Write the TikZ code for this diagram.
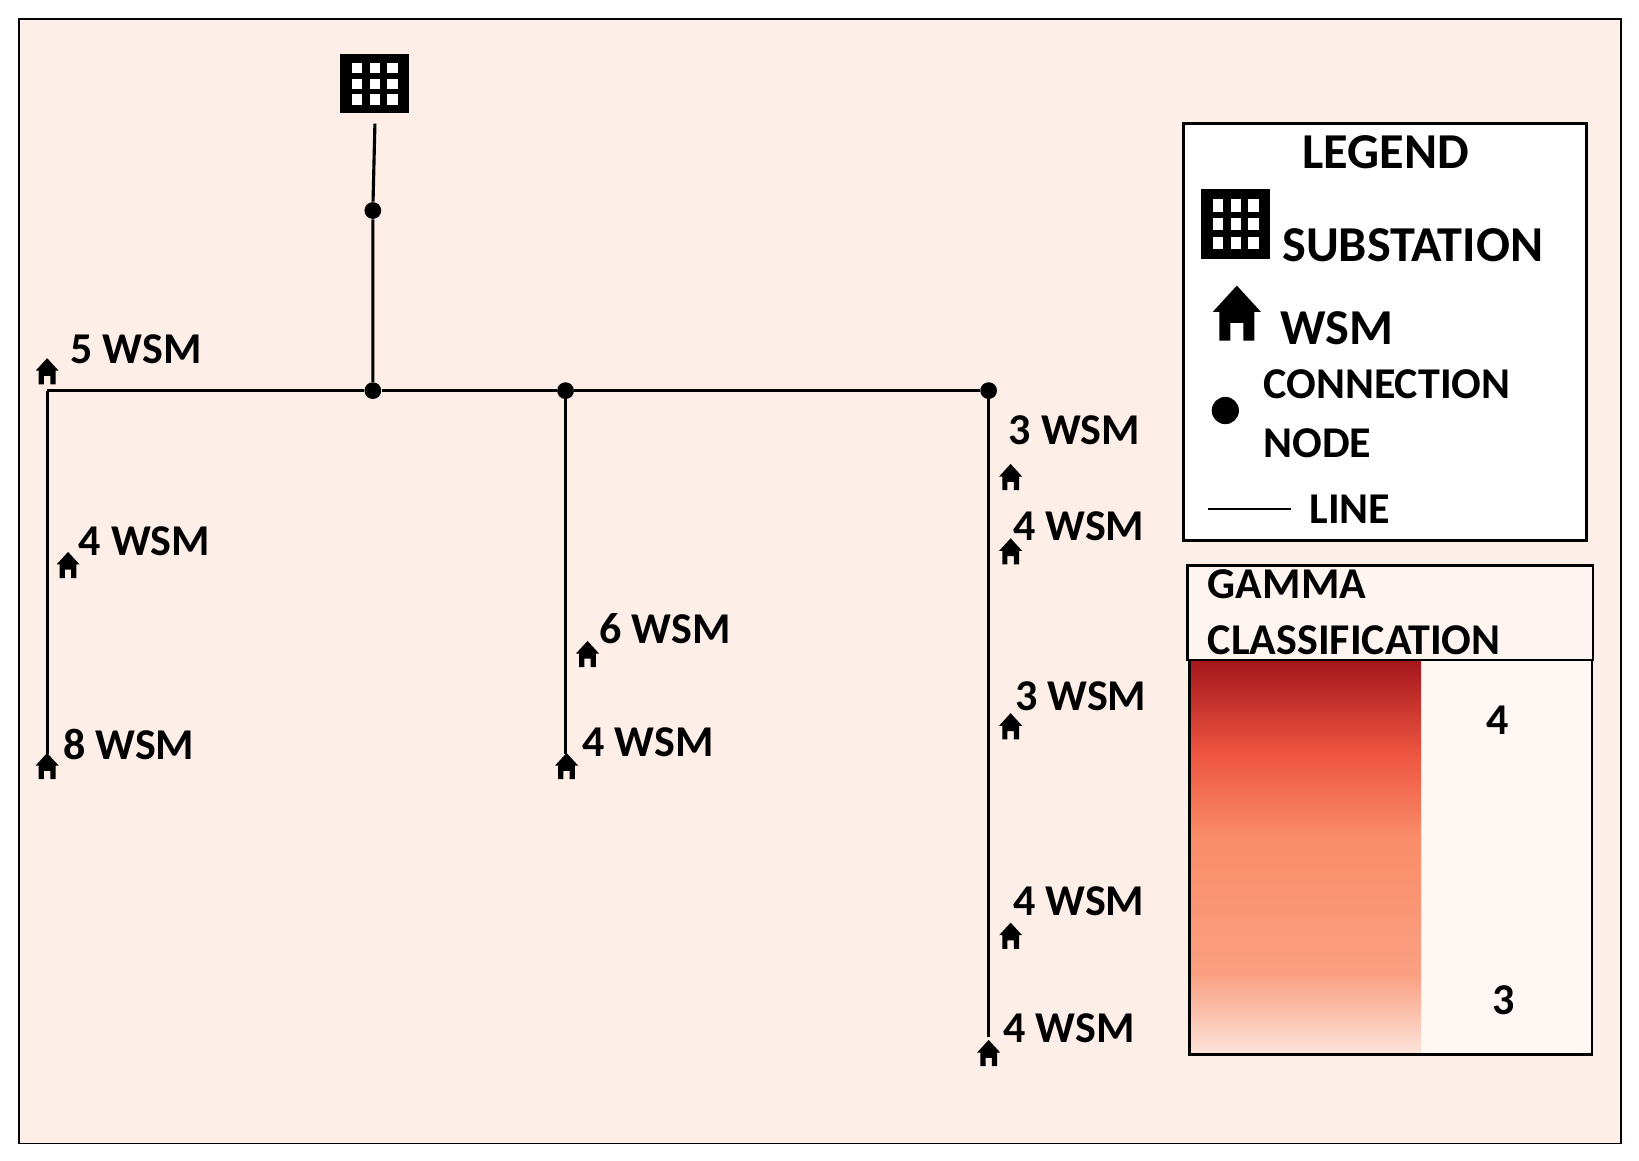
\documentclass[tikz,border=0pt]{standalone}
\usepackage{fontspec}
\setmainfont{Carlito}
\begin{document}
\definecolor{bg}{RGB}{253,238,232}
\definecolor{r1}{RGB}{165,22,28}
\definecolor{r2}{RGB}{238,85,65}
\definecolor{r3}{RGB}{250,140,105}
\definecolor{r4}{RGB}{250,160,130}
\definecolor{r5}{RGB}{252,228,218}
\begin{tikzpicture}[x=0.5pt,y=-0.5pt,
  lbl/.style={font=\fontsize{21}{24}\selectfont\bfseries,anchor=west,inner sep=0pt},
  big/.style={font=\fontsize{24}{28}\selectfont\bfseries,inner sep=0pt},
  wire/.style={line width=1.5pt},
  dot/.style={circle,fill=black,inner sep=0pt,minimum size=8pt},
  house/.pic={\fill[black] (-11,-1)--(0,-13)--(11,-1)--(8,-1)--(8,12)--(3,12)--(3,4)--(-3,4)--(-3,12)--(-8,12)--(-8,-1)--cycle;},
  subst/.pic={\fill[black] (-33,-28) rectangle (33,28);
    \foreach \i in {-1,0,1}{\foreach \j in {-1,0,1}{\fill[white] (\i*17-5,\j*15-5) rectangle (\i*17+5,\j*15+5);}}}
]
\useasboundingbox (0,0) rectangle (1565,1108);
\fill[bg] (18,18) rectangle (1548,1092);
\draw[line width=0.8pt] (18,18) rectangle (1548,1092);

\pic at (358,80) {subst};
\coordinate (s) at (358,118);
\node[dot] (d0) at (356,201) {};
\node[dot] (d1) at (356,373) {};
\node[dot] (d2) at (540,373) {};
\node[dot] (d3) at (944,373) {};
\coordinate (l0) at (45,373);
\coordinate (l1) at (45,720);
\coordinate (m1) at (540,720);
\coordinate (r1e) at (944,990);
\draw[wire] (s) -- (d0) -- (d1);
\draw[wire] (l0) -- (d1) -- (d2) -- (d3);
\draw[wire] (l0) -- (l1);
\draw[wire] (d2) -- (m1);
\draw[wire] (d3) -- (r1e);

\foreach \x/\y/\lx/\ly/\t in {45/355/67/333/5, 65/540/75/517/4, 45/732/60/711/8, 561/625/572/600/6, 541/732/556/709/4,
  965/456/963/411/3, 965/527/967/502/4, 965/694/969/665/3, 965/894/967/861/4, 944/1006/958/982/4}{
  \pic at (\x,\y) {house};
  \node[lbl] at (\lx,\ly) {\t\ WSM};
}

% legend
\fill[white] (1130,118) rectangle (1515,516);
\draw[line width=1.2pt] (1130,118) rectangle (1515,516);
\node[big] (lg) at (1323,145) {LEGEND};
\pic[scale=1.0,yscale=1.2] at (1180,214) {subst};
\node[big,anchor=west] (ls) at (1224,234) {SUBSTATION};
\pic[scale=2.1] at (1181,300) {house};
\node[big,anchor=west] (lw) at (1222,313) {WSM};
\node[circle,fill=black,inner sep=0pt,minimum size=13pt] (ld) at (1170,392) {};
\node[lbl,font=\fontsize{21}{24}\selectfont\bfseries] (lc) at (1206,367) {CONNECTION};
\node[lbl] (ln) at (1206,423) {NODE};
\coordinate (la) at (1153,486); \coordinate (lb) at (1233,486);
\draw[line width=1.2pt] (la) -- (lb);
\node[lbl] (ll) at (1250,486) {LINE};

% gamma
\fill[bg!60!white] (1134,540) rectangle (1521,630);
\draw[line width=1.2pt] (1134,540) rectangle (1521,630);
\node[lbl] (g1) at (1153,558) {GAMMA};
\node[lbl] (g2) at (1153,611) {CLASSIFICATION};
\fill[bg!50!white] (1357,630) rectangle (1520,1007);
\shade[top color=r1,bottom color=r2] (1136,630) rectangle (1357,720);
\shade[top color=r2,bottom color=r3] (1136,720) rectangle (1357,800);
\shade[top color=r3,bottom color=r4] (1136,800) rectangle (1357,930);
\shade[top color=r4,bottom color=r5] (1136,930) rectangle (1357,1007);
\draw[line width=1.2pt] (1136,630) rectangle (1520,1007);
\node[lbl,anchor=center] (n4) at (1430,688) {4};
\node[lbl,anchor=center] (n3) at (1436,955) {3};
\end{tikzpicture}
\end{document}
